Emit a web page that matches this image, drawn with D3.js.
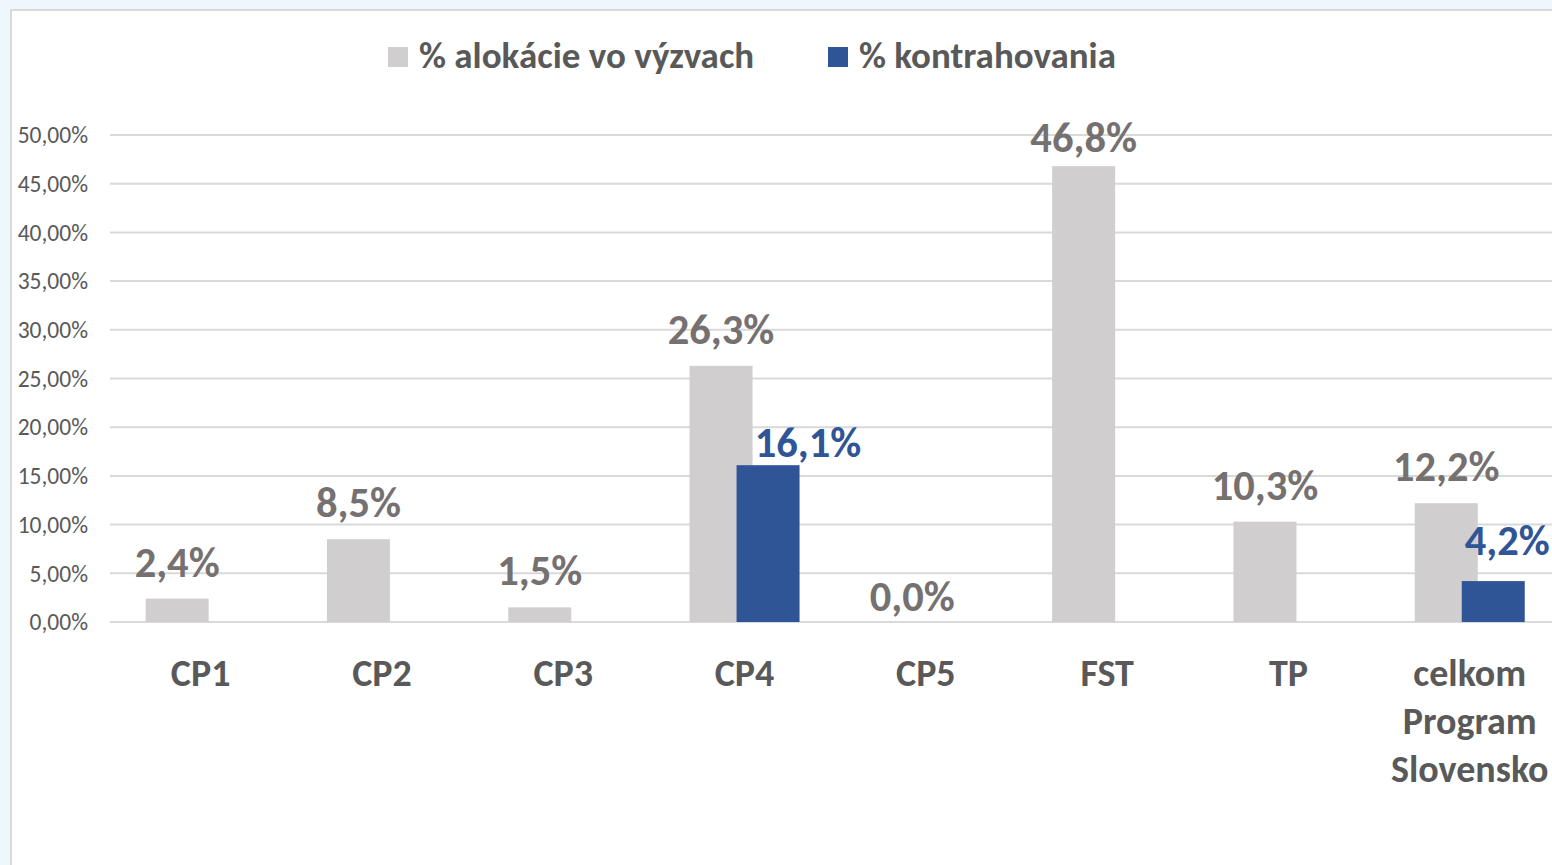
<!DOCTYPE html>
<html>
<head>
<meta charset="utf-8">
<script src="https://cdn.jsdelivr.net/npm/d3@7"></script>
<style>
  html, body { margin: 0; padding: 0; background: #eef7fc; overflow: hidden; }
  svg { display: block; font-family: Carlito, Lato, "Open Sans", sans-serif; }
  .grid line { stroke: #d9d9d9; stroke-width: 2; }
  .ytick { fill: #595959; font-size: 23.5px; }
  .cat { fill: #595959; font-size: 38px; font-weight: bold; }
  .val { font-size: 42.5px; font-weight: bold; }
  .legend text { fill: #595959; font-size: 37px; font-weight: bold; }
</style>
</head>
<body>
<svg id="chart" width="1552" height="865"></svg>
<script>
// categories + the two series (null = no bar)
const categories = ['CP1', 'CP2', 'CP3', 'CP4', 'CP5', 'FST', 'TP', 'celkom Program Slovensko'];
const alokacia   = [2.4, 8.5, 1.5, 26.3, 0.0, 46.8, 10.3, 12.2];
const kontrakt   = [null, null, null, 16.1, null, null, null, 4.2];
const yTicks     = [0, 5, 10, 15, 20, 25, 30, 35, 40, 45, 50];
const seriesNames = ['% alokácie vo výzvach', '% kontrahovania'];

const GREY = '#d0cece', BLUE = '#2f5597';
const fmtTick = v => v.toFixed(2).replace('.', ',') + '%';
const fmtVal  = v => v.toFixed(1).replace('.', ',') + '%';

const svg = d3.select('#chart');

// chart area box (cropped on the right/bottom like the screenshot)
svg.append('rect').attr('x', 11).attr('y', 10).attr('width', 1600).attr('height', 900)
  .attr('fill', '#fff').attr('stroke', '#d9d9d9').attr('stroke-width', 2);

const X0 = 110, STEP = 181.3;
const x = d3.scaleBand().domain(categories).range([X0, X0 + STEP * categories.length]);
const y = d3.scaleLinear().domain([0, 50]).range([622, 135]);
const BW = 63, OFF = 23.5;   // bar width, and half-distance between the overlapping pair

// gridlines
svg.append('g').attr('class', 'grid').selectAll('line').data(yTicks).join('line')
  .attr('x1', X0).attr('x2', 1560).attr('y1', d => y(d)).attr('y2', d => y(d));

// y tick labels
svg.append('g').selectAll('text').data(yTicks).join('text')
  .attr('class', 'ytick').attr('x', 88).attr('y', d => y(d)).attr('dy', '0.35em')
  .attr('text-anchor', 'end').text(fmtTick);

// bars
const cx = c => x(c) + x.bandwidth() / 2;
const rows = s => categories.map((c, i) => ({ c, i, v: s[i] })).filter(d => d.v != null);

svg.append('g').selectAll('rect').data(rows(alokacia)).join('rect')
  .attr('x', d => cx(d.c) - OFF - BW / 2).attr('width', BW)
  .attr('y', d => y(d.v)).attr('height', d => y(0) - y(d.v)).attr('fill', GREY);
svg.append('g').selectAll('rect').data(rows(kontrakt)).join('rect')
  .attr('x', d => cx(d.c) + OFF - BW / 2).attr('width', BW)
  .attr('y', d => y(d.v)).attr('height', d => y(0) - y(d.v)).attr('fill', BLUE);

// data labels; a few were dragged by hand in the original
const nudge = { 'a4': [10, 11], 'a5': [0, 8], 'k3': [40, 14], 'k7': [14, -4] };
const addLabels = (s, key, dxBar, color) =>
  svg.append('g').selectAll('text').data(rows(s)).join('text')
    .attr('class', 'val').attr('fill', color).attr('text-anchor', 'middle')
    .attr('x', d => cx(d.c) + dxBar + (nudge[key + d.i] || [0, 0])[0])
    .attr('y', d => y(d.v) - 22 + (nudge[key + d.i] || [0, 0])[1])
    .text(d => fmtVal(d.v));
addLabels(alokacia, 'a', -OFF, '#767171');
addLabels(kontrakt, 'k', OFF, BLUE);

// category labels (wrap long one into words)
svg.append('g').selectAll('text').data(categories).join('text')
  .attr('class', 'cat').attr('text-anchor', 'middle')
  .attr('x', d => cx(d)).attr('y', 686)
  .each(function(d) {
    const words = d.split(' ');
    d3.select(this).selectAll('tspan').data(words).join('tspan')
      .attr('x', cx(d)).attr('dy', (w, i) => i ? 48 : 0).text(w => w);
  });

// legend
const lg = svg.append('g').attr('class', 'legend');
const legX = [388, 828];
seriesNames.forEach((n, i) => {
  lg.append('rect').attr('x', legX[i]).attr('y', 47).attr('width', 20).attr('height', 20)
    .attr('fill', i ? BLUE : GREY);
  lg.append('text').attr('x', legX[i] + 31).attr('y', 68).text(n);
});
</script>
</body>
</html>
